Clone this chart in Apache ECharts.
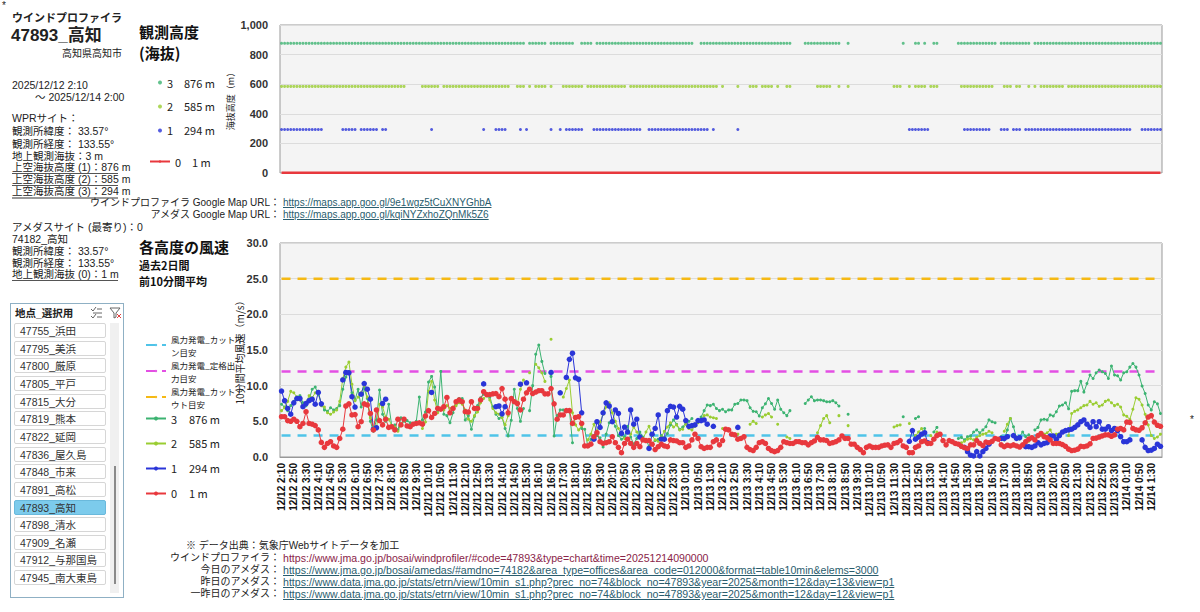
<!DOCTYPE html>
<html>
<head>
<meta charset="utf-8">
<script src="https://cdn.jsdelivr.net/npm/echarts@6/dist/echarts.min.js"></script>
<style>
  html, body { margin: 0; padding: 0; background: #fff; }
  body { width: 1200px; height: 612px; position: relative; overflow: hidden;
         font-family: "Liberation Sans", "Noto Sans CJK JP", sans-serif; color: #222; }
  #container { position: absolute; left: 0; top: 0; width: 1200px; height: 612px; }
  .t { position: absolute; white-space: nowrap; line-height: 12px; font-size: 10.5px; }
  .b { font-weight: bold; }
  .ul { border-bottom: 1px solid #555; width: 106px; line-height: 11px; }
  .r { text-align: right; }
  .lk { color: #2a5d6e; text-decoration: underline; font-size: 10px; }
  .fn { font-size: 10.6px; }
  .item { position: absolute; left: 14px; width: 92px; height: 15px; border: 1px solid #d6d6d6;
          border-radius: 2px; background: #fff; font-size: 10.5px; line-height: 14px;
          padding-left: 5px; box-sizing: border-box; color: #333; }
  .sel { background: #7ccbec; border-color: #6ab9dc; }
</style>
</head>
<body>
<div id="container"></div>

<!-- 左側の情報パネル -->
<div class="t" style="left:2px;top:0px;font-size:10px">*</div>
<div class="t b" style="left:12px;top:12px;font-size:11px">ウインドプロファイラ</div>
<div class="t b" style="left:11px;top:26px;font-size:17px;line-height:20px">47893_高知</div>
<div class="t r" style="left:12px;width:110px;top:48px;font-size:10px">高知県高知市</div>
<div class="t" style="left:12px;top:79px">2025/12/12 2:10</div>
<div class="t" style="left:35px;top:91px">～ 2025/12/14 2:00</div>
<div class="t" style="left:12px;top:112px">WPRサイト：</div>
<div class="t" style="left:12px;top:125px">観測所緯度： 33.57°</div>
<div class="t" style="left:12px;top:138px">観測所経度： 133.55°</div>
<div class="t" style="left:12px;top:150px">地上観測海抜：3 m</div>
<div class="t ul" style="left:12px;top:162px">上空海抜高度 (1)：876 m</div>
<div class="t ul" style="left:12px;top:174px">上空海抜高度 (2)：585 m</div>
<div class="t ul" style="left:12px;top:186px;border-bottom:2px solid #999">上空海抜高度 (3)：294 m</div>
<div class="t" style="left:12px;top:221px">アメダスサイト (最寄り)：0</div>
<div class="t" style="left:12px;top:233px">74182_高知</div>
<div class="t" style="left:12px;top:245px">観測所緯度： 33.57°</div>
<div class="t" style="left:12px;top:257px">観測所経度： 133.55°</div>
<div class="t ul" style="left:12px;top:269px">地上観測海抜 (0)：1 m</div>

<!-- 地点スライサー -->
<div style="position:absolute;left:10px;top:303px;width:112px;height:293px;border:1px solid #8fb0c4"></div>
<div class="t b" style="left:15px;top:307px;font-size:10.5px">地点_選択用</div>
<svg style="position:absolute;left:90px;top:307px" width="34" height="12">
  <g stroke="#666" stroke-width="1" fill="none">
    <path d="M1 2 L3 4 L6 0"/><line x1="7" y1="2" x2="12" y2="2"/>
    <line x1="3" y1="6" x2="12" y2="6"/><path d="M1 9 L3 11 L6 7"/><line x1="7" y1="10" x2="12" y2="10"/>
    <path d="M20 1 L30 1 L26 6 L26 10 L24 11 L24 6 Z"/>
  </g>
  <g stroke="#e04040" stroke-width="1"><line x1="27" y1="7" x2="31" y2="11"/><line x1="31" y1="7" x2="27" y2="11"/></g>
</svg>
<div style="position:absolute;left:110px;top:323px;width:9px;height:270px;background:#f0f0f0"></div>
<div style="position:absolute;left:114px;top:466px;width:2px;height:118px;background:#8a8a8a"></div>
<div id="slicerItems"></div>

<!-- Google Map URL -->
<div class="t r" style="left:40px;width:240px;top:197px;font-size:10px">ウインドプロファイラ Google Map URL：</div>
<div class="t lk" style="left:283px;top:197px">https://maps.app.goo.gl/9e1wgz5tCuXNYGhbA</div>
<div class="t r" style="left:40px;width:240px;top:209px;font-size:10px">アメダス Google Map URL：</div>
<div class="t lk" style="left:283px;top:209px">https://maps.app.goo.gl/kqiNYZxhoZQnMk5Z6</div>

<!-- データ出典 -->
<div class="t" style="left:186px;top:540px;font-size:10px">※ データ出典：気象庁Webサイトデータを加工</div>
<div class="t r" style="left:150px;width:130px;top:552px;font-size:10px">ウインドプロファイラ：</div>
<div class="t fn" style="left:283px;top:552px;color:#8a2448">https://www.jma.go.jp/bosai/windprofiler/#code=47893&amp;type=chart&amp;time=20251214090000</div>
<div class="t r" style="left:150px;width:130px;top:564px;font-size:10px">今日のアメダス：</div>
<div class="t lk fn" style="left:283px;top:564px">https://www.jma.go.jp/bosai/amedas/#amdno=74182&amp;area_type=offices&amp;area_code=012000&amp;format=table10min&amp;elems=3000</div>
<div class="t r" style="left:150px;width:130px;top:576px;font-size:10px">昨日のアメダス：</div>
<div class="t lk fn" style="left:283px;top:576px">https://www.data.jma.go.jp/stats/etrn/view/10min_s1.php?prec_no=74&amp;block_no=47893&amp;year=2025&amp;month=12&amp;day=13&amp;view=p1</div>
<div class="t r" style="left:150px;width:130px;top:588px;font-size:10px">一昨日のアメダス：</div>
<div class="t lk fn" style="left:283px;top:588px">https://www.data.jma.go.jp/stats/etrn/view/10min_s1.php?prec_no=74&amp;block_no=47893&amp;year=2025&amp;month=12&amp;day=12&amp;view=p1</div>
<div class="t" style="left:1190px;top:414px;font-size:10px">*</div>

<script>
// 地点リスト（スライサー）
var stations = ["47755_浜田", "47795_美浜", "47800_厳原", "47805_平戸", "47815_大分", "47819_熊本",
    "47822_延岡", "47836_屋久島", "47848_市来", "47891_高松", "47893_高知", "47898_清水",
    "47909_名瀬", "47912_与那国島", "47945_南大東島"];
var selectedStation = "47893_高知";

// 観測高度（海抜 m）
var height3 = 876, height2 = 585, height1 = 294, height0 = 1;
// 風力発電の目安 (m/s)
var cutIn = 3.0, rated = 12.0, cutOut = 25.0;

// 時刻ラベル 12/12 2:10 から 10分毎 288点
var times = [];
(function () {
    var t0 = new Date(2025, 11, 12, 2, 10).getTime();
    for (var i = 0; i < 288; i++) {
        var d = new Date(t0 + i * 600000);
        var mm = d.getMinutes();
        times.push((d.getMonth() + 1) + "/" + d.getDate() + " " + d.getHours() + ":" + (mm < 10 ? "0" + mm : mm));
    }
})();

var _ = null;
// 0: 1 m（アメダス）
var wind0 = [
/*0*/   5.65,5.65,5.1,5.0,5.3,5.0,4.25,4.7,6.35,4.7,
/*10*/  4.6,4.4,3.8,2.05,1.35,1.9,2.15,1.55,1.35,2.6,
/*20*/  3.9,7.15,7.45,5.9,5.95,4.25,4.95,7.45,7.3,6.1,
/*30*/  3.8,6.6,5.1,4.5,5.3,4.15,4.25,3.8,5.3,4.5,
/*40*/  5.3,4.35,4.25,4.6,4.7,4.8,4.6,5.75,6.5,5.55,
/*50*/  6.1,6.8,6.7,7.05,8.35,6.2,6.8,7.75,8.0,7.75,
/*60*/  6.35,6.3,7.75,6.8,6.8,8.0,9.15,8.75,8.75,8.85,
/*70*/  8.9,8.45,9.6,8.1,6.2,8.2,7.75,7.5,6.6,8.1,
/*80*/  9.0,9.5,8.9,9.1,9.3,9.3,8.85,8.85,9.6,7.45,
/*90*/  5.3,5.9,5.9,6.5,6.5,4.7,5.55,5.65,4.7,1.55,
/*100*/ 1.55,1.8,2.85,3.4,2.15,1.9,2.0,2.15,2.85,2.0,
/*110*/ 1.35,0.6,1.9,2.5,1.9,1.35,1.9,1.45,2.4,2.3,
/*120*/ 2.3,1.8,1.05,1.45,1.8,1.55,1.45,2.4,2.3,2.25,
/*130*/ 2.0,2.0,1.35,1.55,2.4,3.2,2.6,1.45,1.2,1.35,
/*140*/ 1.35,2.15,2.4,1.7,2.3,3.9,3.8,3.2,3.1,2.5,
/*150*/ 2.6,2.85,1.35,1.05,0.9,1.35,2.0,2.15,1.9,1.2,
/*160*/ 0.9,0.75,0.9,1.35,2.15,2.0,1.9,1.9,2.15,2.15,
/*170*/ 2.0,2.0,1.7,2.0,2.25,2.75,2.4,2.4,2.3,1.9,
/*180*/ 2.0,2.15,2.4,2.95,2.6,2.6,1.8,1.8,1.35,1.05,
/*190*/ 0.6,1.35,1.55,1.35,1.35,1.35,1.55,1.65,1.7,1.35,
/*200*/ 1.9,2.0,2.3,1.55,1.35,0.6,0.6,1.35,1.55,2.15,
/*210*/ 2.25,1.9,1.9,2.5,3.0,3.2,2.3,1.7,2.3,2.15,
/*220*/ 1.9,1.8,1.5,1.3,1.2,1.7,1.7,2.3,1.9,1.6,
/*230*/ 2.1,2.0,2.2,2.6,2.5,1.7,1.45,1.65,1.55,1.7,
/*240*/ 1.55,1.4,1.7,2.15,2.5,2.7,2.4,3.0,3.3,2.85,
/*250*/ 2.7,2.4,1.9,1.9,1.9,1.75,1.5,1.1,0.9,0.95,
/*260*/ 1.1,1.5,1.45,1.55,1.85,2.6,2.65,2.8,2.95,3.1,
/*270*/ 3.1,2.9,3.1,3.9,4.0,3.8,4.9,4.85,4.0,3.8,
/*280*/ 3.75,4.1,4.8,5.6,5.8,4.9,4.45,4.3
];
// 1: 294 m
var wind1 = [
/*0*/   9.25,7.9,6.8,6.0,7.6,8.2,8.2,7.05,7.5,7.9,
/*10*/  8.1,7.4,9.05,7.45,_,_,_,_,_,_,
/*20*/  10.8,11.85,11.8,8.45,7.0,_,8.8,10.3,9.5,8.1,
/*30*/  3.9,4.1,_,7.5,8.1,_,_,_,_,_,
/*40*/  _,_,_,_,_,_,_,_,_,9.05,
/*50*/  _,_,_,_,_,_,_,_,_,_,
/*60*/  _,_,_,_,_,_,10.25,_,_,_,
/*70*/  7.05,7.15,6.05,7.05,_,_,_,_,10.2,_,
/*80*/  10.4,_,_,_,_,_,_,_,11.85,_,
/*90*/  _,9.0,_,11.15,13.7,14.55,11.1,10.9,6.2,_,
/*100*/ _,_,2.5,4.95,4.15,6.2,7.6,7.15,4.95,6.6,
/*110*/ 6.1,3.3,4.2,3.5,6.6,4.6,5.3,2.8,_,_,
/*120*/ 1.2,3.2,4.0,5.9,2.5,2.5,6.5,7.1,7.0,5.6,
/*130*/ 7.1,6.7,5.1,4.3,4.4,4.5,5.1,5.1,5.2,4.6,
/*140*/ _,4.3,_,_,_,_,_,_,_,4.15,
/*150*/ _,_,_,_,_,_,_,_,_,_,
/*160*/ _,_,_,_,_,_,_,_,_,_,
/*170*/ _,_,_,_,_,_,_,_,_,_,
/*180*/ _,_,_,_,_,_,_,_,_,_,
/*190*/ _,_,_,_,_,_,_,_,_,_,
/*200*/ _,_,_,_,_,2.2,3.7,2.5,2.8,3.2,
/*210*/ 3.4,2.0,_,_,_,_,_,_,_,_,
/*220*/ _,_,_,1.35,0.75,0.25,0.15,0.75,0.15,0.75,
/*230*/ 1.2,1.8,_,_,_,2.6,2.6,2.85,_,3.0,
/*240*/ 2.6,2.7,_,1.45,1.45,1.35,1.55,2.0,1.7,1.9,
/*250*/ 2.0,2.95,2.95,2.5,3.0,3.5,3.7,3.8,3.9,4.15,
/*260*/ 4.5,4.95,5.2,4.6,4.15,4.95,4.25,4.95,3.9,3.9,
/*270*/ 4.25,3.7,4.0,3.7,2.85,2.15,2.15,2.4,_,_,
/*280*/ _,2.4,1.35,0.9,0.95,1.2,1.8,1.5
];
// 2: 585 m
var wind2 = [
/*0*/   6.5,6.9,7.8,9.2,9.0,8.4,8.0,7.0,7.6,8.6,
/*10*/  8.3,9.0,9.2,7.2,7.0,6.2,6.0,6.3,6.6,7.8,
/*20*/  11.0,12.6,13.3,10.2,7.9,8.4,9.0,10.0,8.4,5.5,
/*30*/  4.2,4.0,7.4,7.0,5.6,5.3,4.4,4.2,3.6,4.6,
/*40*/  5.2,_,_,_,_,_,4.0,4.9,9.2,10.6,
/*50*/  8.0,6.2,_,6.6,7.2,6.8,7.0,7.2,7.6,7.4,
/*60*/  6.6,5.3,5.0,5.8,6.3,7.6,8.2,8.6,8.0,6.8,
/*70*/  6.2,6.0,5.5,4.5,5.8,_,_,7.4,9.5,10.8,
/*80*/  _,11.8,_,13.0,12.5,11.8,10.6,_,16.5,_,
/*90*/  _,_,8.4,9.6,10.8,6.2,4.5,3.8,4.4,_,
/*100*/ 2.4,3.2,4.6,3.6,4.9,6.0,7.0,7.6,6.2,5.0,
/*110*/ 4.0,3.1,2.6,_,3.2,4.2,3.5,2.9,2.5,3.5,
/*120*/ 4.3,3.0,2.4,2.2,2.8,3.6,4.2,4.8,4.2,4.5,
/*130*/ 3.8,3.9,4.6,4.0,3.8,4.3,4.8,5.2,5.8,5.9,
/*140*/ 5.6,5.5,5.4,_,4.0,_,_,_,_,3.2,
/*150*/ _,_,_,4.6,5.0,4.7,_,5.6,5.9,6.1,
/*160*/ 5.6,_,4.6,_,_,2.8,2.6,_,_,_,
/*170*/ _,_,_,_,_,3.4,4.4,5.4,5.8,4.8,
/*180*/ _,_,5.8,_,_,4.4,_,_,_,_,
/*190*/ _,_,_,_,_,_,_,_,_,_,
/*200*/ 4.2,4.4,4.5,_,_,4.7,_,3.0,3.5,4.0,
/*210*/ 3.2,_,3.0,2.5,3.5,_,_,_,_,_,
/*220*/ _,_,2.0,2.2,2.5,2.6,2.4,2.8,3.0,3.2,
/*230*/ 3.3,3.6,3.4,_,_,_,3.6,4.6,5.4,_,
/*240*/ 2.8,2.5,_,_,2.2,_,2.6,_,3.0,3.2,
/*250*/ 3.4,3.8,3.0,3.2,3.3,3.5,_,3.0,6.1,6.4,
/*260*/ 6.6,6.9,7.2,7.3,7.8,7.4,7.6,7.1,7.3,7.8,
/*270*/ 8.0,7.6,7.2,7.4,7.0,5.9,5.7,5.3,6.7,8.3,
/*280*/ 8.1,7.3,6.0,4.5,3.0,2.6,2.8,3.2
];
// 3: 876 m
var wind3 = [
/*0*/   7.4,7.0,6.5,7.2,7.8,8.4,8.6,7.6,7.2,8.0,
/*10*/  9.5,9.8,8.8,7.5,6.6,6.4,6.9,6.6,6.8,7.2,
/*20*/  9.5,11.2,12.0,9.0,8.0,9.5,7.0,9.6,8.2,5.0,
/*30*/  3.6,5.2,9.4,6.0,5.0,7.4,4.3,4.5,3.8,5.5,
/*40*/  5.0,5.1,4.8,4.6,5.0,8.4,5.2,6.3,10.5,11.3,
/*50*/  9.8,6.5,12.0,6.0,5.8,4.8,6.2,7.6,8.2,8.2,
/*60*/  5.2,5.8,3.9,5.7,7.2,8.3,8.8,8.6,8.4,7.0,
/*70*/  6.0,5.4,5.6,4.0,2.95,5.15,9.5,6.8,5.0,6.8,
/*80*/  _,6.5,10.0,14.4,15.7,13.4,11.7,_,11.3,2.95,
/*90*/  5.8,6.6,6.6,6.4,6.6,2.0,_,_,4.0,3.9,
/*100*/ 1.5,2.5,_,3.0,2.7,1.4,3.2,4.8,5.0,4.3,
/*110*/ 3.0,2.5,2.8,4.3,2.8,1.8,2.6,3.5,2.8,2.4,
/*120*/ 1.5,1.9,2.3,2.5,3.0,2.7,3.3,4.5,5.2,4.6,
/*130*/ 3.9,4.2,4.8,5.0,5.4,_,_,5.6,6.5,7.3,
/*140*/ 7.2,7.4,6.8,6.5,6.7,6.35,6.6,6.6,7.4,7.5,
/*150*/ 8.0,8.0,7.9,6.9,6.4,6.35,5.75,6.9,7.45,8.2,
/*160*/ 7.5,6.7,8.0,6.7,6.2,5.8,6.5,_,_,_,
/*170*/ _,7.5,8.0,8.45,7.9,8.0,8.0,7.9,7.75,7.75,
/*180*/ 7.9,7.6,7.15,_,_,6.0,_,_,_,_,
/*190*/ _,_,_,_,_,_,_,_,_,_,
/*200*/ _,_,_,5.65,_,_,_,5.4,5.65,_,
/*210*/ 4.0,_,_,3.5,4.15,_,_,_,_,_,
/*220*/ _,2.6,2.75,2.4,2.85,2.95,3.5,3.8,3.4,3.8,
/*230*/ 4.25,5.2,4.95,4.8,_,2.85,2.4,3.8,5.4,4.25,
/*240*/ 2.6,2.85,3.5,2.85,3.1,_,3.8,4.15,5.2,5.3,
/*250*/ 5.2,5.9,5.75,6.35,7.15,7.3,7.6,6.75,9.2,9.3,
/*260*/ 9.3,10.6,9.1,10.3,11.5,11.0,11.8,12.2,11.95,11.7,
/*270*/ 11.0,12.75,11.5,11.4,10.8,11.8,11.95,12.6,13.1,12.6,
/*280*/ 11.5,9.95,8.9,7.3,6.6,7.75,7.45,6.1
];

var C3 = "#3cb371", C2 = "#9acd32", C1 = "#2a35d8", C0 = "#e8383d";
var C_IN = "#4fc3e8", C_RATED = "#e34fe3", C_OUT = "#f5b914";

// スライサー項目
var box = document.getElementById("slicerItems");
stations.forEach(function (s, k) {
    var d = document.createElement("div");
    d.className = "item" + (s === selectedStation ? " sel" : "");
    d.style.top = (323 + k * 17.65) + "px";
    d.textContent = s;
    box.appendChild(d);
});

// 観測有無 → 高度の点
function avail(arr, h) {
    return arr.map(function (v) { return v == null ? "-" : h; });
}
function constLine(v) {
    return times.map(function () { return v; });
}

var legendLabel = {
    top3: "{n|3}{m|876 m}", top2: "{n|2}{m|585 m}", top1: "{n|1}{m|294 m}", top0: "{n|0}{m|1 m}",
    w3: "{n|3}{m|876 m}", w2: "{n|2}{m|585 m}", w1: "{n|1}{m|294 m}", w0: "{n|0}{m|1 m}",
    "風力発電_カットイン目安": "風力発電_カットイ\nン目安",
    "風力発電_定格出力目安": "風力発電_定格出\n力目安",
    "風力発電_カットアウト目安": "風力発電_カットア\nウト目安"
};
function fmt(name) { return legendLabel[name]; }
var richLbl = { n: { width: 17, fontSize: 11, color: "#222" }, m: { fontSize: 11, color: "#222" } };
var FONT = '"Noto Sans CJK JP", "Noto Sans", sans-serif';
var NUMFONT = '"Liberation Sans", "DejaVu Sans", sans-serif';

var myChart = echarts.init(document.getElementById("container"), null, { renderer: "svg" });
myChart.setOption({
    animation: false,
    textStyle: { fontFamily: FONT },
    title: [
        { text: "観測高度\n(海抜)", left: 139, top: 21, padding: 0,
          textStyle: { fontSize: 15, fontWeight: "bold", color: "#111", lineHeight: 21 } },
        { text: "各高度の風速", left: 139, top: 239, padding: 0, itemGap: 3,
          textStyle: { fontSize: 15, fontWeight: "bold", color: "#111" },
          subtext: "過去2日間\n前10分間平均",
          subtextStyle: { fontSize: 11, fontWeight: "bold", color: "#111", lineHeight: 16 } }
    ],
    legend: [
        { data: ["top3", "top2", "top1"], orient: "vertical", left: 153, top: 72, itemGap: 13,
          itemWidth: 4, itemHeight: 4, formatter: fmt, textStyle: { rich: richLbl }, selectedMode: false },
        { data: ["top0"], orient: "vertical", left: 144, top: 151, itemWidth: 20, itemHeight: 3,
          formatter: fmt, textStyle: { rich: richLbl }, selectedMode: false },
        { data: ["風力発電_カットイン目安", "風力発電_定格出力目安", "風力発電_カットアウト目安"],
          orient: "vertical", left: 140, top: 327, itemGap: 0, itemWidth: 20, itemHeight: 3, itemTextGap: 2,
          formatter: fmt, textStyle: { fontSize: 8.5, lineHeight: 13, color: "#222" }, selectedMode: false },
        { data: ["w3", "w2", "w1", "w0"], orient: "vertical", left: 140, top: 408, itemGap: 14,
          itemWidth: 20, itemHeight: 5, itemTextGap: 4, formatter: fmt,
          textStyle: { rich: { n: { width: 18, fontSize: 11, color: "#222" }, m: { fontSize: 11, color: "#222" } } },
          selectedMode: false }
    ],
    grid: [
        { left: 280, top: 25, width: 882, height: 148, show: true, backgroundColor: "#f4f4f4",
          borderColor: "#999", borderWidth: 1 },
        { left: 280, top: 243, width: 882, height: 214, show: true, backgroundColor: "#f4f4f4",
          borderColor: "#999", borderWidth: 1 }
    ],
    xAxis: [
        { type: "category", gridIndex: 0, data: times, boundaryGap: true,
          axisLabel: { show: false }, axisTick: { show: false }, axisLine: { show: false } },
        { type: "category", gridIndex: 1, data: times, boundaryGap: true,
          axisLine: { lineStyle: { color: "#999" } },
          axisTick: { interval: 0, length: 4, lineStyle: { color: "#777" } },
          axisLabel: { interval: 3, rotate: 90, fontSize: 10, fontWeight: "bold", color: "#111", margin: 6,
                       fontFamily: NUMFONT } }
    ],
    yAxis: [
        { type: "value", gridIndex: 0, min: 0, max: 1000, interval: 200,
          name: "海抜高度（m）", nameLocation: "middle", nameGap: 45, nameMoveOverlap: false,
          nameTextStyle: { fontSize: 9, color: "#222" },
          axisLine: { show: false }, axisTick: { show: false },
          axisLabel: { fontSize: 11, fontWeight: "bold", color: "#333", margin: 12, fontFamily: NUMFONT,
                       formatter: function (v) { return v.toLocaleString("en-US"); } },
          splitLine: { lineStyle: { color: "#dcdcdc" } } },
        { type: "value", gridIndex: 1, min: 0, max: 30, interval: 5,
          name: "10分間平均風速（m/s）", nameLocation: "middle", nameGap: 36, nameMoveOverlap: false,
          nameTextStyle: { fontSize: 10, color: "#222" },
          axisLine: { show: false }, axisTick: { show: false },
          axisLabel: { fontSize: 11, fontWeight: "bold", color: "#333", margin: 12, fontFamily: NUMFONT,
                       formatter: function (v) { return v.toFixed(1); } },
          splitLine: { lineStyle: { color: "#dcdcdc" } } }
    ],
    series: [
        // 観測高度
        { name: "top3", type: "scatter", xAxisIndex: 0, yAxisIndex: 0, data: avail(wind3, height3),
          symbolSize: 3, itemStyle: { color: C3 } },
        { name: "top2", type: "scatter", xAxisIndex: 0, yAxisIndex: 0, data: avail(wind2, height2),
          symbolSize: 3, itemStyle: { color: C2 } },
        { name: "top1", type: "scatter", xAxisIndex: 0, yAxisIndex: 0, data: avail(wind1, height1),
          symbolSize: 3, itemStyle: { color: C1 } },
        { name: "top0", type: "line", xAxisIndex: 0, yAxisIndex: 0, data: avail(wind0, height0),
          symbol: "none", lineStyle: { color: C0, width: 2.5 }, itemStyle: { color: C0 } },
        // 風力発電の目安
        { name: "風力発電_カットイン目安", type: "line", xAxisIndex: 1, yAxisIndex: 1, data: constLine(cutIn),
          symbol: "none", silent: true, lineStyle: { color: C_IN, width: 2.5, type: [9, 7] }, itemStyle: { color: C_IN } },
        { name: "風力発電_定格出力目安", type: "line", xAxisIndex: 1, yAxisIndex: 1, data: constLine(rated),
          symbol: "none", silent: true, lineStyle: { color: C_RATED, width: 2.5, type: [9, 7] }, itemStyle: { color: C_RATED } },
        { name: "風力発電_カットアウト目安", type: "line", xAxisIndex: 1, yAxisIndex: 1, data: constLine(cutOut),
          symbol: "none", silent: true, lineStyle: { color: C_OUT, width: 2.5, type: [9, 7] }, itemStyle: { color: C_OUT } },
        // 各高度の風速
        { name: "w3", type: "line", xAxisIndex: 1, yAxisIndex: 1, data: wind3, showAllSymbol: true,
          symbol: "circle", symbolSize: 3, lineStyle: { color: C3, width: 1 }, itemStyle: { color: C3 } },
        { name: "w2", type: "line", xAxisIndex: 1, yAxisIndex: 1, data: wind2, showAllSymbol: true,
          symbol: "circle", symbolSize: 3, lineStyle: { color: C2, width: 1 }, itemStyle: { color: C2 } },
        { name: "w1", type: "line", xAxisIndex: 1, yAxisIndex: 1, data: wind1, showAllSymbol: true,
          symbol: "circle", symbolSize: 5.5, lineStyle: { color: C1, width: 1 }, itemStyle: { color: C1 } },
        { name: "w0", type: "line", xAxisIndex: 1, yAxisIndex: 1, data: wind0, showAllSymbol: true,
          symbol: "circle", symbolSize: 5.5, lineStyle: { color: C0, width: 1 }, itemStyle: { color: C0 } }
    ]
});
</script>
</body>
</html>
